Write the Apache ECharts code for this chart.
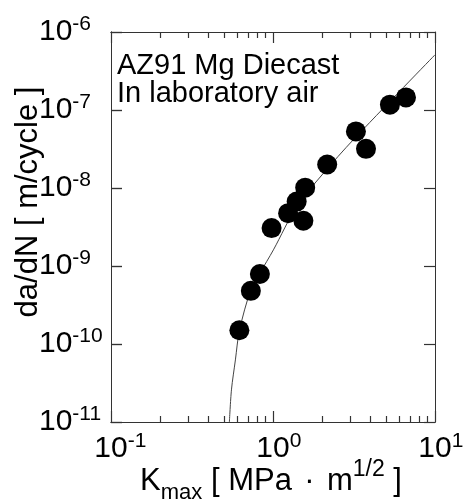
<!DOCTYPE html>
<html>
<head>
<meta charset="utf-8">
<script src="https://cdn.jsdelivr.net/npm/echarts@6/dist/echarts.min.js"></script>
<style>
  html, body { margin: 0; padding: 0; background: #fff; }
  #wrap { position: relative; width: 465px; height: 499px; overflow: hidden; }
  #chart, #frame { position: absolute; left: 0; top: 0; width: 465px; height: 499px; }
</style>
</head>
<body>
<div id="wrap">
  <div id="chart"></div>
  <div id="frame"></div>
</div>
<script>
// measured points
var kmax = [0.62, 0.73, 0.83, 0.98, 1.24, 1.40, 1.54, 1.58, 2.16, 3.25, 3.75, 5.27, 6.62];
var dadn = [1.5e-10, 4.8e-10, 7.9e-10, 3.06e-9, 4.76e-9, 6.7e-9, 3.8e-9, 1.01e-8, 2.0e-8, 5.31e-8, 3.18e-8, 1.17e-7, 1.45e-7];

// fitted curve
var fitK = [0.538, 0.554, 0.586, 0.621, 0.729, 0.832, 1.006, 1.40, 2.05, 3.13, 10];
var fitRate = [1e-11, 2.58e-11, 6.25e-11, 1.5e-10, 4.94e-10, 8.17e-10, 1.61e-9, 5.79e-9, 1.55e-8, 4.15e-8, 5.1e-7];

// minor ticks on the K axis (majors are the decades 0.1, 1, 10)
var xMinor = [0.2, 0.3, 0.4, 0.5, 0.6, 0.7, 0.8, 0.9, 2, 3, 4, 5, 6, 7, 8, 9];

var FONT = 'Liberation Sans';
var INK = '#000';
var FRAME = '#333';

function expOf(v) {
    return Math.round(Math.log(v) / Math.LN10);
}
// y labels: plain, left aligned
function yLabel(v) {
    return '{b|10}{s|' + expOf(v) + '}';
}
// x labels: a hidden copy of the exponent in front keeps "10" centred on the tick
function xLabel(v) {
    var e = expOf(v);
    return '{h|' + e + '}{b|10}{s|' + e + '}';
}

var labelRich = {
    b: { fontSize: 30, lineHeight: 36, fontFamily: FONT, color: INK },
    s: { fontSize: 21, lineHeight: 20, verticalAlign: 'top', fontFamily: FONT, color: INK },
    h: { fontSize: 21, lineHeight: 20, verticalAlign: 'top', fontFamily: FONT, color: 'rgba(0,0,0,0)' }
};

var grid = { left: 111, right: 30, top: 32, bottom: 77, outerBoundsMode: 'none', containLabel: false };

// ---- main chart: labels, titles, data ----
var chart = echarts.init(document.getElementById('chart'));
chart.setOption({
    animation: false,
    grid: grid,
    xAxis: {
        type: 'log', min: 0.1, max: 10, position: 'bottom',
        axisLine: { show: false }, axisTick: { show: false }, splitLine: { show: false },
        axisLabel: { show: true, margin: 9, formatter: xLabel, rich: labelRich }
    },
    yAxis: {
        type: 'log', min: 1e-11, max: 1e-6, position: 'left',
        axisLine: { show: false }, axisTick: { show: false }, splitLine: { show: false },
        axisLabel: { show: true, margin: 72, align: 'left', formatter: yLabel, rich: labelRich }
    },
    graphic: [
        {
            type: 'text', x: 117, y: 52,
            style: {
                text: 'AZ91 Mg Diecast\nIn laboratory air',
                font: '29px "' + FONT + '"', lineHeight: 28,
                fill: INK, textVerticalAlign: 'top'
            }
        },
        {
            type: 'text', x: 271, y: 458,
            style: {
                text: 'K{sub|max} [ MPa{d|\u00b7}m{sup|1/2} ]',
                font: '31px "' + FONT + '"', lineHeight: 46, fill: INK,
                textAlign: 'center', textVerticalAlign: 'top',
                rich: {
                    sub: { fontSize: 22, lineHeight: 40, verticalAlign: 'bottom', fontFamily: FONT, fill: INK },
                    sup: { fontSize: 23, lineHeight: 20, verticalAlign: 'top', fontFamily: FONT, fill: INK },
                    d: { fontSize: 31, lineHeight: 46, width: 35, align: 'center', fontFamily: FONT, fill: INK }
                }
            }
        },
        {
            type: 'text', x: 28, y: 202, rotation: Math.PI / 2,
            style: {
                text: 'da/dN [ m/cycle ]',
                font: '31px "' + FONT + '"', fill: INK,
                textAlign: 'center', textVerticalAlign: 'middle'
            }
        }
    ],
    series: [
        {
            type: 'line',
            data: fitK.map(function (k, i) { return [k, fitRate[i]]; }),
            showSymbol: false, smooth: 0.3,
            lineStyle: { color: '#444', width: 1 },
            z: 1
        },
        {
            type: 'scatter',
            data: kmax.map(function (k, i) { return [k, dadn[i]]; }),
            symbol: 'circle', symbolSize: 20,
            itemStyle: { color: '#000', opacity: 1 },
            z: 2
        }
    ]
});

// ---- overlay: box frame with inward ticks ----
// its own labels are pushed far off the canvas
function frameAxis(gi, pos, isX, ticks, len) {
    var a = {
        gridIndex: gi, type: 'log', position: pos,
        min: isX ? 0.1 : 1e-11, max: isX ? 10 : 1e-6,
        axisLine: { show: true, lineStyle: { color: FRAME } },
        axisTick: { show: true, inside: true, length: len, lineStyle: { color: FRAME, width: 1.2 } },
        axisLabel: { show: true, color: FRAME, fontSize: 8, margin: 1000 },
        splitLine: { show: false }
    };
    if (ticks) a.axisTick.customValues = ticks;
    return a;
}
var frame = echarts.init(document.getElementById('frame'));
frame.setOption({
    animation: false,
    grid: [grid, grid],
    xAxis: [
        frameAxis(0, 'bottom', true, null, 11),
        frameAxis(0, 'top', true, null, 11),
        frameAxis(1, 'bottom', true, xMinor, 6),
        frameAxis(1, 'top', true, xMinor, 6)
    ],
    yAxis: [
        frameAxis(0, 'left', false, null, 11),
        frameAxis(0, 'right', false, null, 11),
        frameAxis(1, 'left', false, null, 11)
    ],
    series: [{ type: 'scatter', xAxisIndex: 0, yAxisIndex: 0, data: [] }]
});
</script>
</body>
</html>
